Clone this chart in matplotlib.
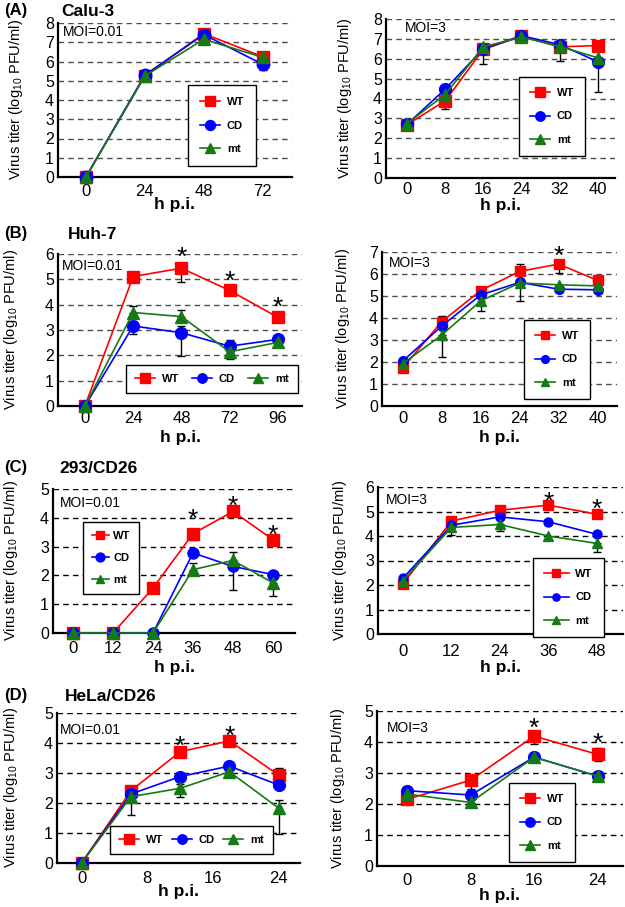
import matplotlib
matplotlib.use("Agg")
import matplotlib.pyplot as plt

plt.rcParams['font.family'] = ['Liberation Sans', 'DejaVu Sans']
plt.rcParams['mathtext.fontset'] = 'custom'
plt.rcParams['mathtext.rm'] = 'Liberation Sans'

# error bars are listed as (series, hour, minus, plus)

# (A) Calu-3
calu3_low_hours = [0, 24, 48, 72]
calu3_low_wt = [0, 5.25, 7.45, 6.25]
calu3_low_cd = [0, 5.3, 7.4, 5.86]
calu3_low_mt = [0, 5.25, 7.15, 6.22]
calu3_low_errbars = [("CD", 72, 0.3, 0.0)]
calu3_low_star_hours = []
calu3_low_star_levels = []

calu3_high_hours = [0, 8, 16, 24, 32, 40]
calu3_high_wt = [2.68, 3.88, 6.47, 7.13, 6.6, 6.66]
calu3_high_cd = [2.7, 4.47, 6.5, 7.16, 6.71, 5.85]
calu3_high_mt = [2.74, 4.2, 6.6, 7.09, 6.62, 6.05]
calu3_high_errbars = [("WT", 8, 0.43, 0), ("mt", 16, 0.85, 0),
                      ("mt", 32, 0.75, 0), ("CD", 40, 1.5, 0)]
calu3_high_star_hours = []
calu3_high_star_levels = []

# (B) Huh-7
huh7_low_hours = [0, 24, 48, 72, 96]
huh7_low_wt = [0, 5.11, 5.44, 4.56, 3.5]
huh7_low_cd = [0, 3.16, 2.89, 2.36, 2.63]
huh7_low_mt = [0, 3.69, 3.53, 2.14, 2.51]
huh7_low_errbars = [("WT", 48, 0.55, 0.22), ("CD", 24, 0.33, 0), ("CD", 48, 0.9, 0.27),
                    ("CD", 72, 0, 0.25), ("mt", 24, 0, 0.25), ("mt", 48, 0, 0.27),
                    ("mt", 72, 0.3, 0)]
huh7_low_star_hours = [48, 72, 96]
huh7_low_star_levels = [6.17, 5.24, 4.19]

huh7_high_hours = [0, 8, 16, 24, 32, 40]
huh7_high_wt = [1.74, 3.84, 5.25, 6.12, 6.45, 5.71]
huh7_high_cd = [2.05, 3.64, 5.05, 5.62, 5.31, 5.28]
huh7_high_mt = [1.93, 3.23, 4.78, 5.59, 5.51, 5.46]
huh7_high_errbars = [("WT", 8, 0, 0.25), ("WT", 24, 0, 0.33), ("WT", 32, 0.4, 0),
                     ("mt", 8, 1.0, 0), ("mt", 16, 0.45, 0), ("mt", 24, 0.8, 0)]
huh7_high_star_hours = [32]
huh7_high_star_levels = [7.14]

# (C) 293/CD26
c293_low_hours = [0, 12, 24, 36, 48, 60]
c293_low_wt = [0, 0, 1.56, 3.45, 4.22, 3.24]
c293_low_cd = [0, 0, 0, 2.78, 2.31, 2.03]
c293_low_mt = [0, 0, 0, 2.2, 2.52, 1.74]
c293_low_errbars = [("WT", 36, 0.22, 0), ("CD", 48, 0.8, 0), ("mt", 36, 0, 0.23),
                    ("mt", 48, 0, 0.3), ("mt", 60, 0.47, 0)]
c293_low_star_hours = [36, 48, 60]
c293_low_star_levels = [4.22, 4.65, 3.65]

c293_high_hours = [0, 12, 24, 36, 48]
c293_high_wt = [2.05, 4.61, 5.05, 5.26, 4.89]
c293_high_cd = [2.28, 4.44, 4.78, 4.58, 4.07]
c293_high_mt = [2.18, 4.35, 4.47, 4.0, 3.7]
c293_high_errbars = [("WT", 0, 0.18, 0), ("mt", 12, 0.32, 0), ("mt", 24, 0.27, 0),
                     ("CD", 36, 0.15, 0), ("mt", 48, 0.35, 0)]
c293_high_star_hours = [36, 48]
c293_high_star_levels = [5.7, 5.39]

# (D) HeLa/CD26
hela_low_hours = [0, 6, 12, 18, 24]
hela_low_wt = [0, 2.41, 3.71, 4.07, 2.93]
hela_low_cd = [0, 2.3, 2.88, 3.23, 2.6]
hela_low_mt = [0, 2.21, 2.49, 3.04, 1.83]
hela_low_errbars = [("WT", 18, 0.1, 0), ("WT", 24, 0, 0.25), ("mt", 6, 0.6, 0),
                    ("mt", 12, 0.3, 0.16), ("mt", 24, 0.85, 0.27)]
hela_low_star_hours = [12, 18]
hela_low_star_levels = [4.15, 4.48]

hela_high_hours = [0, 8, 16, 24]
hela_high_wt = [2.15, 2.77, 4.19, 3.6]
hela_high_cd = [2.43, 2.29, 3.51, 2.9]
hela_high_mt = [2.32, 2.05, 3.51, 2.9]
hela_high_errbars = [("WT", 0, 0.13, 0), ("WT", 8, 0.3, 0), ("WT", 16, 0.25, 0),
                     ("WT", 24, 0.22, 0.2)]
hela_high_star_hours = [16, 24]
hela_high_star_levels = [4.69, 4.2]

SERIES = [("WT", "#ff0000", "s"), ("CD", "#0000ff", "o"), ("mt", "#157a15", "^")]

W, H = 625, 907
fig = plt.figure(figsize=(W / 100, H / 100), dpi=100)


def fx(x):
    return x / W


def fy(y):
    return 1 - y / H


def draw_panel(hours, wt, cd, mt, errbars, star_hours, star_levels, lay):
    x0, x1, ytop, ybot = lay["box"]
    ax = fig.add_axes([fx(x0), fy(ybot), (x1 - x0) / W, (ybot - ytop) / H])
    ax.set_xlim(*lay["xlim"])
    ax.set_ylim(0, lay["ymax"])
    ax.set_yticks(range(lay["ymax"] + 1))
    ax.set_xticks(lay.get("xticks", hours))
    ax.tick_params(length=0)
    ax.tick_params(axis="x", pad=lay["xpad"], labelsize=12)
    ax.tick_params(axis="y", pad=3, labelsize=11.5)
    for s in ["top", "right"]:
        ax.spines[s].set_visible(False)
    for s in ["left", "bottom"]:
        ax.spines[s].set_linewidth(1.6)
    ax.set_axisbelow(True)
    ax.yaxis.grid(True, linestyle=(0, (4, 3)), color=lay["grid"], linewidth=1.0)

    values = {"WT": wt, "CD": cd, "mt": mt}
    for i, (name, color, marker) in enumerate(SERIES):
        ax.plot(hours, values[name], color=color, marker=marker, ms=lay["ms"],
                mec=color, lw=1.2, label=name, clip_on=False, zorder=4 + i)

    for name, h, lo, hi in errbars:
        y = values[name][hours.index(h)]
        ax.errorbar([h], [y], yerr=[[lo], [hi]], fmt="none", ecolor="black",
                    elinewidth=1.0, capsize=3, capthick=1.0, zorder=3, clip_on=False)

    for h, lvl in zip(star_hours, star_levels):
        ax.annotate("*", (h, lvl), xytext=(0, -11), textcoords="offset points",
                    ha="center", va="baseline", fontsize=19, annotation_clip=False)

    # MOI label
    mx, my = lay["moi_pos"]
    fig.text(fx(mx), fy(my - 3), lay["moi"], fontsize=10, va="top", ha="left")

    # axis labels
    ax.set_ylabel("Virus titer (log$_{10}$ PFU/ml)", fontsize=10.5)
    ax.yaxis.set_label_coords((lay["ylab_x"] - x0) / (x1 - x0), 0.5)
    ax.set_xlabel("h p.i.", fontsize=12.5, fontweight="bold")
    ax.xaxis.set_label_coords(0.5, (ybot - lay["xlab_y"] + 2) / (ybot - ytop))

    lx, ly = lay["leg_pos"]
    leg = ax.legend(loc="upper left", bbox_to_anchor=(fx(lx), fy(ly)),
                    bbox_transform=fig.transFigure, borderaxespad=0,
                    ncol=lay.get("ncol", 1), frameon=True, fancybox=False,
                    edgecolor="black", framealpha=1, prop={"weight": "bold", "size": 8},
                    handlelength=lay.get("hlen", 1.8), handletextpad=lay.get("htpad", 0.6),
                    markerscale=0.8, labelspacing=lay.get("lspace", 1.2),
                    borderpad=lay.get("bpad", 1.0), columnspacing=lay.get("cspace", 1.2))
    leg.get_frame().set_linewidth(1.0)
    return ax


layouts = [
    dict(box=(58, 292, 23, 177), xlim=(-11.4, 84), ymax=8, grid="#4d4d4d", ms=9, xpad=5.0,
         moi="MOI=0.01", moi_pos=(63, 28), ylab_x=25, xlab_y=199, leg_pos=(188, 85),
         bpad=1.1),
    dict(box=(386, 615, 19, 178), xlim=(-4.4, 43.6), ymax=8, grid="#4d4d4d", ms=8.5, xpad=3.0,
         moi="MOI=3", moi_pos=(405, 24), ylab_x=354, xlab_y=200, leg_pos=(519, 77)),
    dict(box=(58, 302, 254, 406), xlim=(-13.4, 108), ymax=6, grid="#4d4d4d", ms=8.5, xpad=3.6,
         moi="MOI=0.01", moi_pos=(62, 262), ylab_x=20, xlab_y=432, leg_pos=(126, 365),
         ncol=3, bpad=0.8, cspace=1.2),
    dict(box=(382, 617, 252, 406), xlim=(-4.3, 44), ymax=7, grid="#4d4d4d", ms=7, xpad=3.6,
         moi="MOI=3", moi_pos=(389, 259), ylab_x=352, xlab_y=432, leg_pos=(524, 320)),
    dict(box=(53, 295, 489, 633), xlim=(-6, 66.6), ymax=5, grid="black", ms=8, xpad=5.8,
         moi="MOI=0.01", moi_pos=(60, 499), ylab_x=20, xlab_y=662, leg_pos=(83, 522),
         bpad=0.8, lspace=1.1, hlen=1.5, htpad=0.4),
    dict(box=(378, 623, 487, 634), xlim=(-6.2, 54.5), ymax=6, grid="black", ms=6.5, xpad=7.2,
         moi="MOI=3", moi_pos=(386, 496), ylab_x=349, xlab_y=662, leg_pos=(533, 558),
         bpad=1.0, hlen=2.2),
    dict(box=(57, 300, 713, 863), xlim=(-3.0, 26.6), ymax=5, grid="black", ms=8.5, xpad=5.8,
         xticks=[0, 8, 16, 24], moi="MOI=0.01", moi_pos=(60, 726), ylab_x=20, xlab_y=886,
         leg_pos=(110, 826), ncol=3, bpad=0.8, cspace=0.8),
    dict(box=(377, 623, 711, 866), xlim=(-3.8, 27.2), ymax=5, grid="black", ms=8.5, xpad=5.0,
         xticks=[0, 8, 16, 24], moi="MOI=3", moi_pos=(387, 724), ylab_x=347, xlab_y=890,
         leg_pos=(509, 783)),
]

panels = [
    (calu3_low_hours, calu3_low_wt, calu3_low_cd, calu3_low_mt, calu3_low_errbars,
     calu3_low_star_hours, calu3_low_star_levels),
    (calu3_high_hours, calu3_high_wt, calu3_high_cd, calu3_high_mt, calu3_high_errbars,
     calu3_high_star_hours, calu3_high_star_levels),
    (huh7_low_hours, huh7_low_wt, huh7_low_cd, huh7_low_mt, huh7_low_errbars,
     huh7_low_star_hours, huh7_low_star_levels),
    (huh7_high_hours, huh7_high_wt, huh7_high_cd, huh7_high_mt, huh7_high_errbars,
     huh7_high_star_hours, huh7_high_star_levels),
    (c293_low_hours, c293_low_wt, c293_low_cd, c293_low_mt, c293_low_errbars,
     c293_low_star_hours, c293_low_star_levels),
    (c293_high_hours, c293_high_wt, c293_high_cd, c293_high_mt, c293_high_errbars,
     c293_high_star_hours, c293_high_star_levels),
    (hela_low_hours, hela_low_wt, hela_low_cd, hela_low_mt, hela_low_errbars,
     hela_low_star_hours, hela_low_star_levels),
    (hela_high_hours, hela_high_wt, hela_high_cd, hela_high_mt, hela_high_errbars,
     hela_high_star_hours, hela_high_star_levels),
]

for data, lay in zip(panels, layouts):
    draw_panel(*data, lay)

# panel letters and cell line names
headings = [("(A)", "Calu-3", 4, 61), ("(B)", "Huh-7", 227, 68),
            ("(C)", "293/CD26", 461, 59), ("(D)", "HeLa/CD26", 689, 65)]
for letter, cell, ytop_px, cell_x in headings:
    fig.text(fx(4), fy(ytop_px - 1), letter, fontsize=12, fontweight="bold", va="top")
    fig.text(fx(cell_x), fy(ytop_px), cell, fontsize=12.5, fontweight="bold", va="top")

fig.savefig("out.png", dpi=100)
